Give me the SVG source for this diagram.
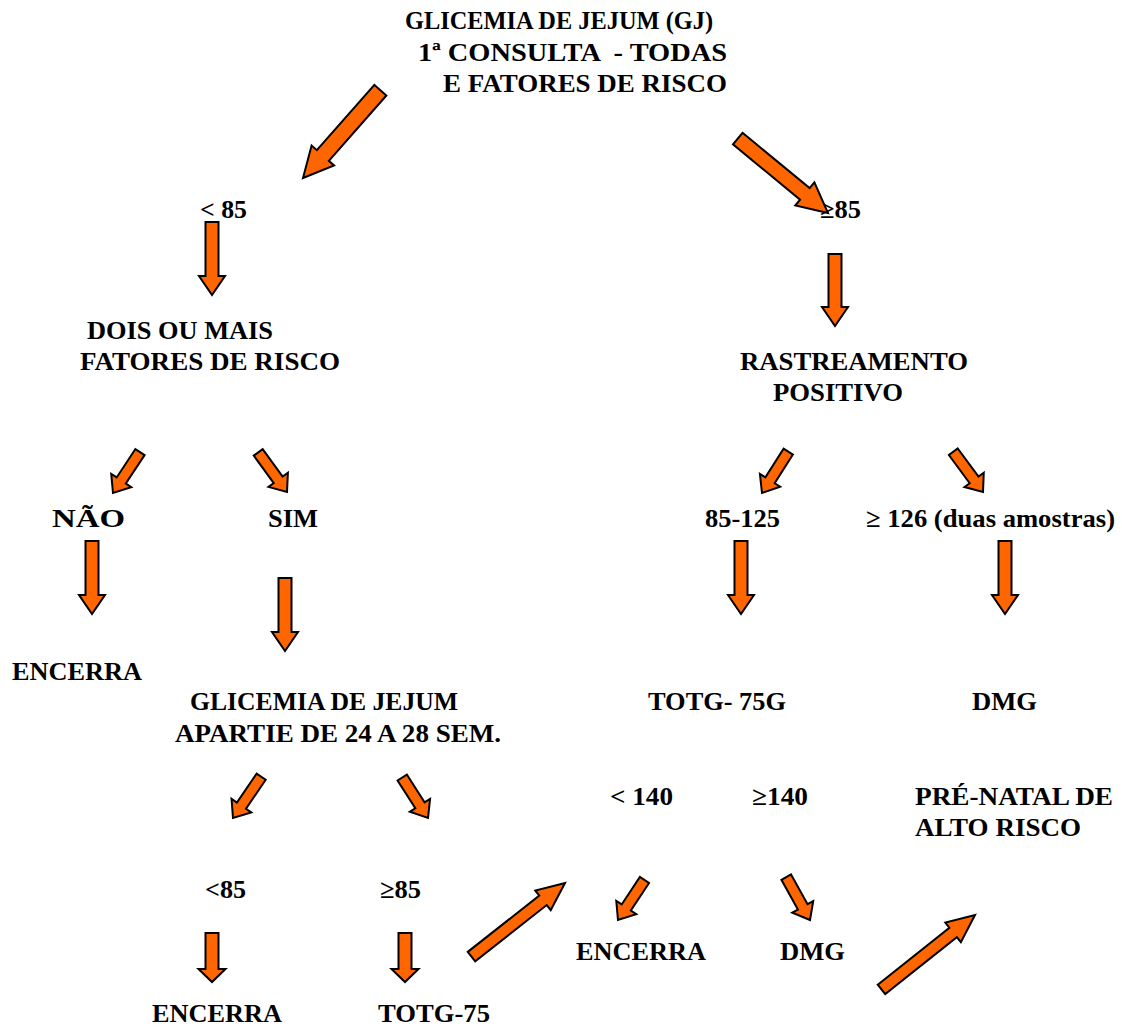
<svg xmlns="http://www.w3.org/2000/svg" width="1122" height="1028" viewBox="0 0 1122 1028">
  <style>
    text { font-family: "Liberation Serif", "Times New Roman", serif; font-weight: bold; font-size: 26px; fill: #000; white-space: pre; }
    .arr { fill: #FF6600; stroke: #000; stroke-width: 2; stroke-linejoin: miter; }
  </style>
  <rect width="1122" height="1028" fill="#fff"/>

  <!-- labels -->
  <g id="n-gj-inicial">
    <text x="405" y="29" textLength="308" lengthAdjust="spacingAndGlyphs">GLICEMIA DE JEJUM (GJ)</text>
    <text x="418" y="61" textLength="309" lengthAdjust="spacingAndGlyphs">1ª CONSULTA  - TODAS</text>
    <text x="443" y="92" textLength="284" lengthAdjust="spacingAndGlyphs">E FATORES DE RISCO</text>
  </g>
  <g id="n-menor85"><text x="200" y="218" textLength="47" lengthAdjust="spacingAndGlyphs">&lt; 85</text></g>
  <g id="n-maior85"><text x="820" y="218" textLength="41" lengthAdjust="spacingAndGlyphs">≥85</text></g>
  <g id="n-dois-fatores">
    <text x="87" y="339" textLength="186" lengthAdjust="spacingAndGlyphs">DOIS OU MAIS</text>
    <text x="80" y="370" textLength="260" lengthAdjust="spacingAndGlyphs">FATORES DE RISCO</text>
  </g>
  <g id="n-rastreamento">
    <text x="740" y="370" textLength="228" lengthAdjust="spacingAndGlyphs">RASTREAMENTO</text>
    <text x="773" y="401" textLength="130" lengthAdjust="spacingAndGlyphs">POSITIVO</text>
  </g>
  <g id="n-nao"><text x="52" y="527" textLength="73" lengthAdjust="spacingAndGlyphs">NÃO</text></g>
  <g id="n-sim"><text x="268" y="527" textLength="50" lengthAdjust="spacingAndGlyphs">SIM</text></g>
  <g id="n-85-125"><text x="705" y="527" textLength="75" lengthAdjust="spacingAndGlyphs">85-125</text></g>
  <g id="n-126"><text x="866" y="527" textLength="249" lengthAdjust="spacingAndGlyphs">≥ 126 (duas amostras)</text></g>
  <g id="n-encerra-1"><text x="12" y="680" textLength="130" lengthAdjust="spacingAndGlyphs">ENCERRA</text></g>
  <g id="n-gj-24-28">
    <text x="190" y="710" textLength="268" lengthAdjust="spacingAndGlyphs">GLICEMIA DE JEJUM</text>
    <text x="175" y="742" textLength="326" lengthAdjust="spacingAndGlyphs">APARTIE DE 24 A 28 SEM.</text>
  </g>
  <g id="n-totg-75g"><text x="648" y="710" textLength="138" lengthAdjust="spacingAndGlyphs">TOTG- 75G</text></g>
  <g id="n-dmg-1"><text x="972" y="710" textLength="65" lengthAdjust="spacingAndGlyphs">DMG</text></g>
  <g id="n-menor140"><text x="610" y="805" textLength="63" lengthAdjust="spacingAndGlyphs">&lt; 140</text></g>
  <g id="n-maior140"><text x="752" y="805" textLength="56" lengthAdjust="spacingAndGlyphs">≥140</text></g>
  <g id="n-pre-natal">
    <text x="915" y="805" textLength="198" lengthAdjust="spacingAndGlyphs">PRÉ-NATAL DE</text>
    <text x="915" y="836" textLength="166" lengthAdjust="spacingAndGlyphs">ALTO RISCO</text>
  </g>
  <g id="n-menor85-b"><text x="205" y="898" textLength="41" lengthAdjust="spacingAndGlyphs">&lt;85</text></g>
  <g id="n-maior85-b"><text x="380" y="898" textLength="41" lengthAdjust="spacingAndGlyphs">≥85</text></g>
  <g id="n-encerra-2"><text x="576" y="960" textLength="130" lengthAdjust="spacingAndGlyphs">ENCERRA</text></g>
  <g id="n-dmg-2"><text x="780" y="960" textLength="65" lengthAdjust="spacingAndGlyphs">DMG</text></g>
  <g id="n-encerra-3"><text x="152" y="1022" textLength="130" lengthAdjust="spacingAndGlyphs">ENCERRA</text></g>
  <g id="n-totg-75"><text x="378" y="1022" textLength="112" lengthAdjust="spacingAndGlyphs">TOTG-75</text></g>

  <!-- block arrows: tip at origin, pointing along +x -->
  <g id="connectors">
    <!-- large diagonals from the top -->
    <polygon class="arr" transform="translate(303,178) rotate(131.4)" points="-117,-8 -30,-8 -30,-15 0,0 -30,15 -30,8 -117,8"/>
    <polygon class="arr" transform="translate(828,213) rotate(39.5)" points="-117,-7.5 -30,-7.5 -30,-15 0,0 -30,15 -30,7.5 -117,7.5"/>

    <!-- long vertical arrows -->
    <polygon class="arr" transform="translate(212,295) rotate(90)" points="-73,-6.5 -19,-6.5 -19,-13 0,0 -19,13 -19,6.5 -73,6.5"/>
    <polygon class="arr" transform="translate(835,326) rotate(90)" points="-72,-6.5 -19,-6.5 -19,-13 0,0 -19,13 -19,6.5 -72,6.5"/>
    <polygon class="arr" transform="translate(92,614) rotate(90)" points="-73,-6.5 -19,-6.5 -19,-13 0,0 -19,13 -19,6.5 -73,6.5"/>
    <polygon class="arr" transform="translate(285,651) rotate(90)" points="-73,-6.5 -19,-6.5 -19,-13 0,0 -19,13 -19,6.5 -73,6.5"/>
    <polygon class="arr" transform="translate(741,614) rotate(90)" points="-73,-6.5 -19,-6.5 -19,-13 0,0 -19,13 -19,6.5 -73,6.5"/>
    <polygon class="arr" transform="translate(1005,614) rotate(90)" points="-73,-6.5 -19,-6.5 -19,-13 0,0 -19,13 -19,6.5 -73,6.5"/>

    <!-- short vertical arrows -->
    <polygon class="arr" transform="translate(212,982) rotate(90)" points="-49,-6.5 -13,-6.5 -13,-13.5 0,0 -13,13.5 -13,6.5 -49,6.5"/>
    <polygon class="arr" transform="translate(405,982) rotate(90)" points="-49,-6.5 -13,-6.5 -13,-13.5 0,0 -13,13.5 -13,6.5 -49,6.5"/>

    <!-- small diagonal pairs -->
    <polygon class="arr" transform="translate(113,493) rotate(123.4)" points="-49,-5.5 -15,-5.5 -15,-12 0,0 -15,12 -15,5.5 -49,5.5"/>
    <polygon class="arr" transform="translate(287,492) rotate(54)" points="-49,-5.5 -15,-5.5 -15,-12 0,0 -15,12 -15,5.5 -49,5.5"/>
    <polygon class="arr" transform="translate(762,493) rotate(122.4)" points="-49,-5.5 -15,-5.5 -15,-12 0,0 -15,12 -15,5.5 -49,5.5"/>
    <polygon class="arr" transform="translate(983,492) rotate(53.6)" points="-50,-5.5 -15,-5.5 -15,-12 0,0 -15,12 -15,5.5 -50,5.5"/>
    <polygon class="arr" transform="translate(233,818) rotate(124.3)" points="-50,-5.5 -15,-5.5 -15,-12 0,0 -15,12 -15,5.5 -50,5.5"/>
    <polygon class="arr" transform="translate(428,818) rotate(57.5)" points="-48,-5.5 -15,-5.5 -15,-12 0,0 -15,12 -15,5.5 -48,5.5"/>
    <polygon class="arr" transform="translate(618,920) rotate(123.5)" points="-48,-5.5 -15,-5.5 -15,-12 0,0 -15,12 -15,5.5 -48,5.5"/>
    <polygon class="arr" transform="translate(810,920) rotate(61)" points="-49,-5.5 -15,-5.5 -15,-12 0,0 -15,12 -15,5.5 -49,5.5"/>

    <!-- large up-right arrows at the bottom -->
    <polygon class="arr" transform="translate(565,883) rotate(-38.2)" points="-119,-6 -28,-6 -28,-12.5 0,0 -28,12.5 -28,6 -119,6"/>
    <polygon class="arr" transform="translate(975,915) rotate(-38.5)" points="-119.5,-6 -28,-6 -28,-12.5 0,0 -28,12.5 -28,6 -119.5,6"/>
  </g>
</svg>
